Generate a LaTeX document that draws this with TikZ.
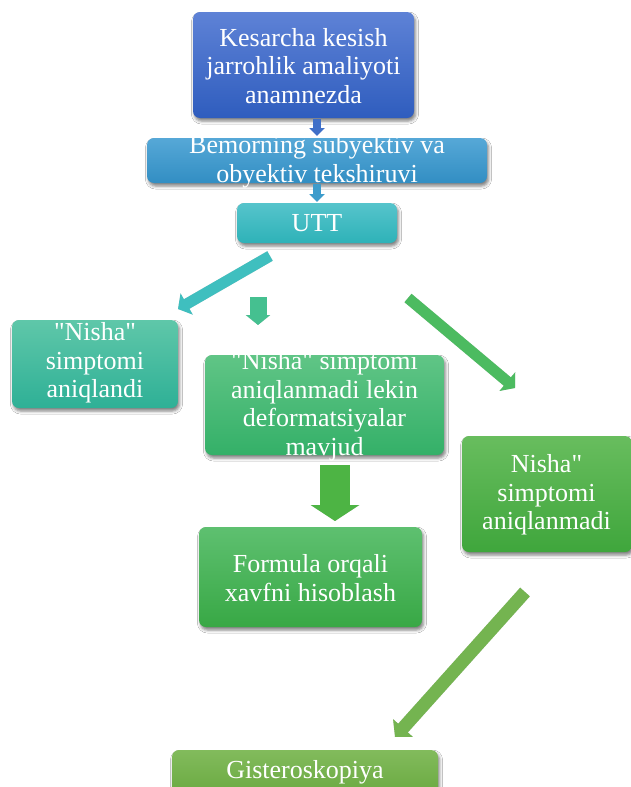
\documentclass[tikz,border=0pt]{standalone}
\usepackage{fontspec}
\setmainfont{Liberation Serif}[Ligatures=TeXOff]
\usetikzlibrary{arrows.meta,shadows.blur}
\begin{document}
\begin{tikzpicture}[x=1pt,y=-1pt,
  box/.style={rounded corners=7pt, inner sep=0pt, draw=none,
    blur shadow={shadow xshift=1.5pt, shadow yshift=-3pt, shadow blur radius=3pt, shadow opacity=50}},
  txt/.style={text=white, align=center, font=\fontsize{26}{28.5}\selectfont, inner sep=0pt},
  arr/.style={-{Triangle[length=#1]}},
]
\useasboundingbox (0,0) rectangle (631,787);
\fill[white] (0,0) rectangle (631,787);
\begin{scope}
\clip (0,0) rectangle (631,787);
% boxes
\node[box, minimum width=221pt, minimum height=106pt, top color={rgb,255:red,94;green,130;blue,214}, bottom color={rgb,255:red,47;green,93;blue,190}] (b1) at (303.5,65) {};
\node[box, minimum width=340pt, minimum height=45pt, top color={rgb,255:red,86;green,168;blue,215}, bottom color={rgb,255:red,50;green,142;blue,195}] (b2) at (317,160.5) {};
\node[box, minimum width=160pt, minimum height=40pt, top color={rgb,255:red,86;green,196;blue,204}, bottom color={rgb,255:red,46;green,178;blue,184}] (b3) at (317,223) {};
\node[box, minimum width=166pt, minimum height=88pt, top color={rgb,255:red,95;green,199;blue,169}, bottom color={rgb,255:red,46;green,176;blue,150}] (b4) at (95,364) {};
\node[box, minimum width=239pt, minimum height=100pt, top color={rgb,255:red,96;green,197;blue,134}, bottom color={rgb,255:red,52;green,176;blue,104}] (b5) at (324.5,405) {};
\node[box, minimum width=170pt, minimum height=116pt, top color={rgb,255:red,104;green,189;blue,94}, bottom color={rgb,255:red,63;green,166;blue,60}] (b6) at (547,494) {};
\node[box, minimum width=223pt, minimum height=100pt, top color={rgb,255:red,94;green,192;blue,112}, bottom color={rgb,255:red,56;green,168;blue,69}] (b7) at (310.5,577) {};
\node[box, minimum width=266pt, minimum height=56pt, top color={rgb,255:red,130;green,187;blue,92}, bottom color={rgb,255:red,100;green,165;blue,58}] (b8) at (305,778) {};
% texts
\node[txt] (t1) at (303.5,66) {Kesarcha kesish\\jarrohlik amaliyoti\\anamnezda};
\node[txt] (t2) at (317,162) {Bemorning subyektiv va\\obyektiv tekshiruvi};
\node[txt] (t3) at (317,223) {UTT};
\node[txt] (t4) at (95,363) {"Nisha"\\simptomi\\aniqlandi};
\node[txt] (t5) at (324.5,406) {"Nisha" simptomi\\aniqlanmadi lekin\\deformatsiyalar\\mavjud};
\node[txt] (t6) at (546.5,495) {Nisha"\\simptomi\\aniqlanmadi};
\node[txt] (t7) at (310.5,578) {Formula orqali\\xavfni hisoblash};
\node[txt] (t8) at (305,772) {Gisteroskopiya};
% arrow end points
\coordinate (a1s) at (317,119); \coordinate (a1e) at (317,136);
\coordinate (a2s) at (317,184); \coordinate (a2e) at (317,202);
\coordinate (a3s) at (270,256); \coordinate (a3e) at (178,309);
\coordinate (a4s) at (258,297); \coordinate (a4e) at (258,325);
\coordinate (a5s) at (408,298); \coordinate (a5e) at (515,388);
\coordinate (a6s) at (335,465); \coordinate (a6e) at (335,521);
\coordinate (a7s) at (525,592); \coordinate (a7e) at (395,737);
% arrow shadows
\begin{scope}[shift={(1.5,3)}, black, opacity=0.18]
\draw[-{Triangle[length=10pt,width=24pt]}, line width=11pt] (a3s) -- (a3e);
\draw[-{Triangle[length=10pt,width=24pt]}, line width=17pt] (a4s) -- (a4e);
\draw[-{Triangle[length=10pt,width=24pt]}, line width=11pt] (a5s) -- (a5e);
\draw[-{Triangle[length=16pt,width=48pt]}, line width=30pt] (a6s) -- (a6e);
\draw[-{Triangle[length=12pt,width=26pt]}, line width=13pt] (a7s) -- (a7e);
\end{scope}
% arrows
\draw[-{Triangle[length=8pt,width=15pt]}, line width=8pt, draw={rgb,255:red,63;green,111;blue,200}, fill={rgb,255:red,63;green,111;blue,200}] (a1s) -- (a1e);
\draw[-{Triangle[length=8pt,width=15pt]}, line width=8pt, draw={rgb,255:red,61;green,156;blue,204}] (a2s) -- (a2e);
\draw[-{Triangle[length=10pt,width=24pt]}, line width=11pt, draw={rgb,255:red,63;green,191;blue,191}] (a3s) -- (a3e);
\draw[-{Triangle[length=10pt,width=24pt]}, line width=17pt, draw={rgb,255:red,69;green,192;blue,144}] (a4s) -- (a4e);
\draw[-{Triangle[length=10pt,width=24pt]}, line width=11pt, draw={rgb,255:red,76;green,187;blue,96}] (a5s) -- (a5e);
\draw[-{Triangle[length=16pt,width=48pt]}, line width=30pt, draw={rgb,255:red,77;green,180;blue,68}] (a6s) -- (a6e);
\draw[-{Triangle[length=12pt,width=26pt]}, line width=13pt, draw={rgb,255:red,116;green,180;blue,80}] (a7s) -- (a7e);
\end{scope}
\end{tikzpicture}
\end{document}
